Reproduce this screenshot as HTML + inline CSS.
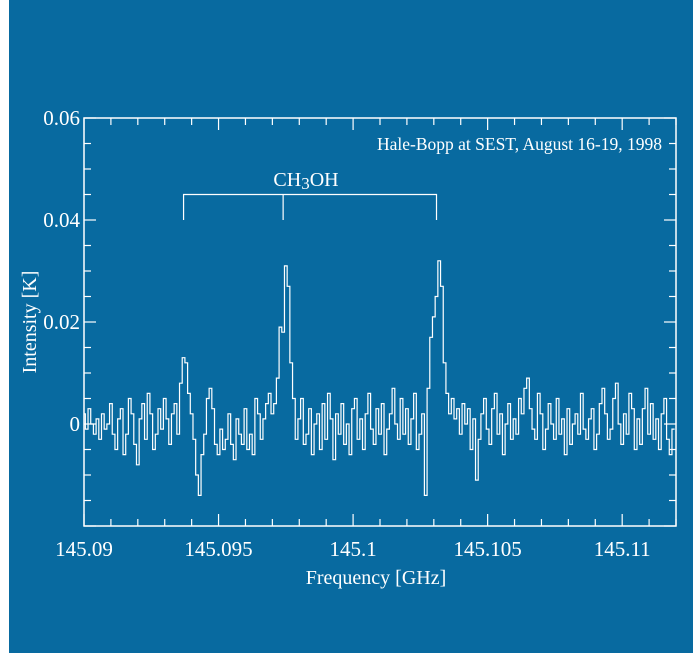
<!DOCTYPE html>
<html><head><meta charset="utf-8"><style>
html,body{margin:0;padding:0;background:#fff;}
svg{display:block;}
text{font-family:"Liberation Serif",serif;fill:#fff;}
</style></head><body>
<svg id="chart" width="700" height="658">
<rect x="9" y="0" width="684" height="653" fill="#086aa0"/>
<g id="axes"></g>
<path id="spec" fill="none" stroke="#fff" stroke-width="1.2"/>
<rect x="84" y="118" width="592" height="408" fill="none" stroke="#fff" stroke-width="1.5"/>
<text x="662" y="150" font-size="17.5" text-anchor="end">Hale-Bopp at SEST, August 16-19, 1998</text>
<text x="306" y="186" font-size="20" text-anchor="middle">CH<tspan font-size="17" dy="3">3</tspan><tspan dy="-3">OH</tspan></text>
<text x="376" y="584" font-size="20" text-anchor="middle">Frequency [GHz]</text>
<text transform="translate(36,322) rotate(-90)" font-size="20" text-anchor="middle">Intensity [K]</text>
</svg>
<script>
const xTicks=[145.09,145.095,145.1,145.105,145.11];
const xTickLabels=["145.09","145.095","145.1","145.105","145.11"];
const yTicks=[0,0.02,0.04,0.06];
const yTickLabels=["0","0.02","0.04","0.06"];
const startFreq=145.09;
const channelWidth=0.0001;
const intensityMK=[2,-1,3,0,-2,1,-3,2,-1,0,
4,-2,-5,1,3,-6,-2,5,2,-4,
-8,1,4,-3,6,2,-5,-2,3,-1,
5,1,-4,2,4,-2,8,13,12,6,
2,-3,-10,-14,-6,-2,5,7,3,-4,
-6,-1,-5,-3,2,-4,-7,1,-2,-4,
3,-5,-2,-6,5,2,-3,1,4,6,
2,4,9,19,18,31,27,12,5,-3,
1,5,-4,-2,3,-6,0,2,-5,4,
-3,6,1,-7,2,-2,4,-4,0,-6,
3,5,-3,1,-5,2,6,-1,-4,3,
-2,4,-6,-1,2,7,0,-3,5,-2,
3,-4,1,6,-5,-2,2,-14,7,17,
21,25,32,27,12,6,2,5,1,3,
-2,4,0,3,-5,1,-11,-3,2,5,
-1,-4,3,6,-2,2,-6,0,4,-3,
1,-2,5,2,7,9,3,-1,-3,6,
2,-5,-1,4,0,-3,5,-2,1,-6,
3,-4,0,2,-2,6,-1,-3,1,3,
-5,-2,4,7,2,-3,-1,5,8,0,
-4,2,-2,6,3,-5,1,-4,3,7,
-2,4,-3,1,-5,2,5,-3,-6,-1];
const lineFreqs=[145.0937,145.0974,145.1031];
const x0=84,x1=676,y0=526,y1=118,fmin=145.09,fmax=145.112,imin=-0.02,imax=0.06;
const X=f=>x0+(f-fmin)/(fmax-fmin)*(x1-x0);
const Y=v=>y0-(v-imin)/(imax-imin)*(y0-y1);
const ns="http://www.w3.org/2000/svg";
const ax=document.getElementById('axes');
function mk(tag,attrs){const e=document.createElementNS(ns,tag);for(const k in attrs)e.setAttribute(k,attrs[k]);return e;}
for(let f=145.09;f<=fmax+1e-9;f+=0.001){
 const xx=X(f);const maj=Math.abs(Math.round(f*200)-f*200)<1e-4;const L=maj?12:7;
 const a=mk('line',{x1:xx,x2:xx,y1:y0,y2:y0-L,stroke:'#fff','stroke-width':1.2});
 
 ax.appendChild(a);
 const b=mk('line',{x1:xx,x2:xx,y1:y1,y2:y1+L,stroke:'#fff','stroke-width':1.2});
 
 ax.appendChild(b);
}
for(let v=-0.02;v<=0.06+1e-9;v+=0.005){
 const yy=Y(v);const maj=Math.abs(Math.round(v*50)-v*50)<1e-4;const L=maj?12:7;
 const a=mk('line',{x1:x0,x2:x0+L,y1:yy,y2:yy,stroke:'#fff','stroke-width':1.2});
 
 ax.appendChild(a);
 const b=mk('line',{x1:x1,x2:x1-L,y1:yy,y2:yy,stroke:'#fff','stroke-width':1.2});
 
 ax.appendChild(b);
}
xTicks.forEach((f,i)=>{const t=mk('text',{x:X(f),y:556,'font-size':21,'text-anchor':'middle'});t.textContent=xTickLabels[i];
 
 ax.appendChild(t);});
yTicks.forEach((v,i)=>{const t=mk('text',{x:80,y:Y(v)+7,'font-size':21,'text-anchor':'end'});t.textContent=yTickLabels[i];
 
 ax.appendChild(t);});
const by=Y(0.045),bt=Y(0.04);
let bd=`M${X(lineFreqs[0])},${bt}V${by}H${X(lineFreqs[lineFreqs.length-1])}V${bt}`;
lineFreqs.slice(1,-1).forEach(f=>{bd+=`M${X(f)},${by}V${bt}`;});
const br=mk('path',{d:bd,fill:'none',stroke:'#fff','stroke-width':1.2});

ax.appendChild(br);
let d='';
intensityMK.forEach((v,i)=>{const fa=startFreq+(i-0.5)*channelWidth,fb=startFreq+(i+0.5)*channelWidth;
 const xa=Math.max(x0,X(fa)),xb=Math.min(x1,X(fb)),yy=Y(v/1000);
 d+=(i===0?`M${xa},${yy}`:`V${yy}`)+`H${xb}`;});
document.getElementById('spec').setAttribute('d',d);
</script>
</body></html>
